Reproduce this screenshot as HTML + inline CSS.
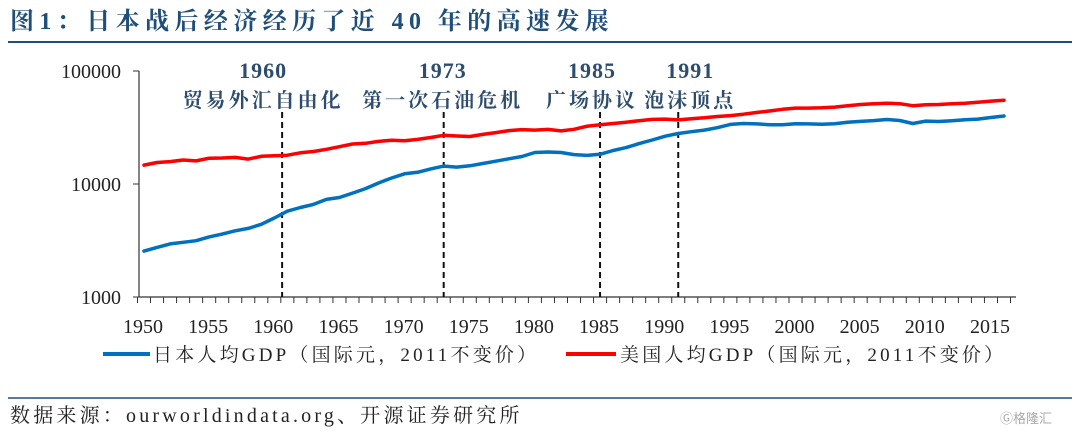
<!DOCTYPE html>
<html><head><meta charset="utf-8"><style>
body{margin:0;background:#fff;}
svg{display:block;font-family:"Liberation Serif","Noto Serif CJK SC",serif;}
</style></head><body>
<svg width="1080" height="436" viewBox="0 0 1080 436">
<text x="10" y="29" font-size="24" font-weight="bold" letter-spacing="5.4" fill="#1f4e79">图1：日本战后经济经历了近 40 年的高速发展</text>
<line x1="8" y1="42" x2="1072" y2="42" stroke="#1f4e79" stroke-width="2"/>
<g id="axes"></g>
<g id="series"></g>
<g id="legend">
<line x1="103" y1="354" x2="150" y2="354" stroke="#0070c0" stroke-width="4"/>
<text x="153" y="361" font-size="19" letter-spacing="3.2" fill="#222">日本人均GDP（国际元，2011不变价）</text>
<line x1="566" y1="354" x2="616" y2="354" stroke="#ff0000" stroke-width="4"/>
<text x="620" y="361" font-size="19" letter-spacing="3.2" fill="#222">美国人均GDP（国际元，2011不变价）</text>
</g>
<line x1="8" y1="398" x2="1072" y2="398" stroke="#1f4e79" stroke-width="1.5"/>
<text x="10" y="422" font-size="20" letter-spacing="3.2" fill="#222">数据来源：ourworldindata.org、开源证券研究所</text>
<text x="1000" y="423" font-size="13" fill="#aaa" font-family="Liberation Sans,Noto Sans CJK SC,sans-serif">Ⓖ格隆汇</text>
</svg>
<script>
const startYear=1950;
const japan=[2550,2750,2950,3050,3150,3400,3600,3850,4050,4400,5000,5750,6200,6600,7300,7600,8300,9100,10200,11300,12300,12700,13600,14400,14100,14500,15200,15900,16700,17500,19000,19200,19000,18200,17900,18300,19800,21000,22800,24500,26500,28000,29000,30000,31500,33700,34300,34000,33500,33500,34200,34000,33800,34200,35200,35800,36400,37200,36500,34300,36000,35700,36300,37000,37500,38800,40000];
const usa=[14700,15500,15800,16300,16000,16900,17000,17200,16600,17600,17800,18000,18900,19400,20300,21400,22600,22900,23800,24400,24100,24800,25800,27000,26600,26300,27500,28500,29700,30300,30000,30400,29500,30500,32500,33500,34300,35200,36300,37300,37500,36900,37800,38500,39600,40300,41500,42900,44300,45800,47000,47000,47200,47900,49200,50500,51300,51900,51400,49300,50200,50500,51300,51800,52800,54200,55000];
const yTicks=[1000,10000,100000];
const xLabels=[1950,1955,1960,1965,1970,1975,1980,1985,1990,1995,2000,2005,2010,2015];
const events=[1960.6,1973,1985,1991];
const eventYears=["1960","1973","1985","1991"];
const eventLabels=["贸易外汇自由化","第一次石油危机","广场协议","泡沫顶点"];
const labelShift=[-19,-1,-8,12];
const NS="http://www.w3.org/2000/svg";
const X=y=>144+(y-1950)*13.03;
const Y=v=>297-113*Math.log10(v/1000);
function mk(tag,attrs,parent){const e=document.createElementNS(NS,tag);for(const k in attrs)e.setAttribute(k,attrs[k]);parent.appendChild(e);return e;}
const ax=document.getElementById('axes');
let e=mk('line',{x1:139,y1:Y(100000),x2:139,y2:297,stroke:'#333','stroke-width':1.2},ax);


e=mk('line',{x1:139,y1:297,x2:1016,y2:297,stroke:'#333','stroke-width':1.2},ax);


yTicks.forEach(v=>{
  const t=mk('line',{x1:133,x2:139,y1:Y(v),y2:Y(v),stroke:'#333'},ax);
  
  
  const l=mk('text',{x:121,y:Y(v)+7,'font-size':20,'text-anchor':'end',fill:'#222'},ax);
  l.textContent=v;
  
  
});
for(let yr=1950;yr<=2017;yr++){
  const t=mk('line',{x1:X(yr)-6.5,x2:X(yr)-6.5,y1:297,y2:303,stroke:'#333'},ax);
  
  
}
xLabels.forEach(yr=>{
  const l=mk('text',{x:X(yr)-1,y:333,'font-size':20,'text-anchor':'middle',fill:'#222'},ax);
  l.textContent=yr;
  
  
});
events.forEach((yr,i)=>{
  const x=X(yr);
  const d=mk('line',{x1:x,x2:x,y1:112,y2:297,stroke:'#111','stroke-width':2,'stroke-dasharray':'6,4'},ax);
  
  
  const cx=x+labelShift[i];
  const t=mk('text',{x:cx,y:78,'font-size':22,'text-anchor':'middle',fill:'#2e4d6e','font-weight':'bold','letter-spacing':1},ax);
  t.textContent=eventYears[i];
  
  
  const c=mk('text',{x:cx,y:107,'font-size':20,'text-anchor':'middle',fill:'#2e4d6e','font-weight':'bold','letter-spacing':3},ax);
  c.textContent=eventLabels[i];
  
  
});
const sg=document.getElementById('series');
function line(arr,color,name){
  const d=arr.map((v,i)=>(i?'L':'M')+X(startYear+i).toFixed(1)+','+Y(v).toFixed(1)).join('');
  const p=mk('path',{d:d,fill:'none',stroke:color,'stroke-width':3.5,'stroke-linejoin':'round','stroke-linecap':'round'},sg);
  
  
}
line(usa,'#ff0000','us-gdp-line');
line(japan,'#0070c0','japan-gdp-line');
</script>
</body></html>
